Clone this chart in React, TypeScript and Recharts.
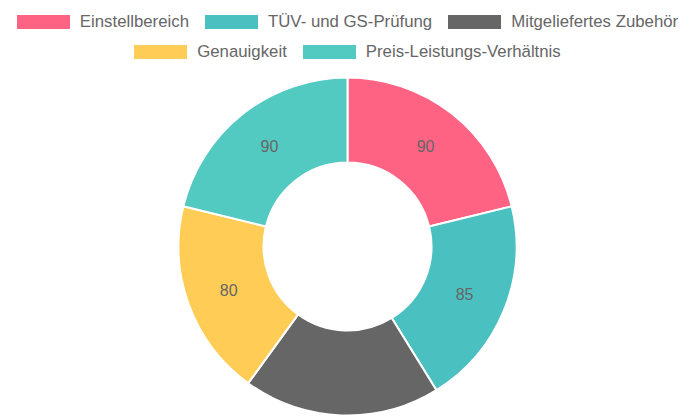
import React from 'react';
import { PieChart, Pie, Cell } from 'recharts';

const categories = ['Einstellbereich', 'TÜV- und GS-Prüfung', 'Mitgeliefertes Zubehör', 'Genauigkeit', 'Preis-Leistungs-Verhältnis'];
const scores = [90, 85, 80, 80, 90];
const colors = ['#FF6384', '#4BC0C0', '#666666', '#FFCD56', '#52C9C1'];

const data = categories.map((name, i) => ({ name, value: scores[i] }));

const RAD = Math.PI / 180;
const FONT = '"Liberation Sans", Arial, sans-serif';

const renderLabel = (props: any) => {
  const { cx, cy, midAngle, innerRadius, outerRadius, value } = props;
  const r = (innerRadius + outerRadius) / 2;
  const x = cx + r * Math.cos(-midAngle * RAD);
  const y = cy + r * Math.sin(-midAngle * RAD);
  return (
    <text x={x} y={y} fill="#666" fontSize={16} fontFamily={FONT} textAnchor="middle" dominantBaseline="central">
      {value}
    </text>
  );
};

const LegendItem = ({ name, color }: { name: string; color: string }) => (
  <div style={{ display: 'flex', alignItems: 'center', margin: '0 8px' }}>
    <span style={{ display: 'inline-block', width: 53, height: 14, background: color, marginRight: 10 }} />
    <span>{name}</span>
  </div>
);

const App: React.FC = () => {
  const rows = [categories.slice(0, 3), categories.slice(3)];
  return (
    <div style={{ position: 'absolute', left: 0, top: 0, width: 695, height: 417, background: '#fff' }}>
      <div style={{ position: 'absolute', top: 7, left: 0, width: 695, fontFamily: FONT, fontSize: 16.8, color: '#666' }}>
        {rows.map((row, ri) => (
          <div key={ri} style={{ display: 'flex', justifyContent: 'center', height: 30, alignItems: 'center' }}>
            {row.map((name) => (
              <LegendItem key={name} name={name} color={colors[categories.indexOf(name)]} />
            ))}
          </div>
        ))}
      </div>
      <PieChart width={695} height={417} margin={{ top: 0, right: 0, bottom: 0, left: 0 }}>
        <Pie
          data={data}
          dataKey="value"
          nameKey="name"
          cx={347.5}
          cy={246.5}
          innerRadius={84}
          outerRadius={169}
          startAngle={90}
          endAngle={-270}
          stroke="#fff"
          strokeWidth={2}
          label={renderLabel}
          labelLine={false}
          isAnimationActive={false}
        >
          {data.map((d, i) => (
            <Cell key={d.name} fill={colors[i]} />
          ))}
        </Pie>
      </PieChart>
    </div>
  );
};

export default App;
